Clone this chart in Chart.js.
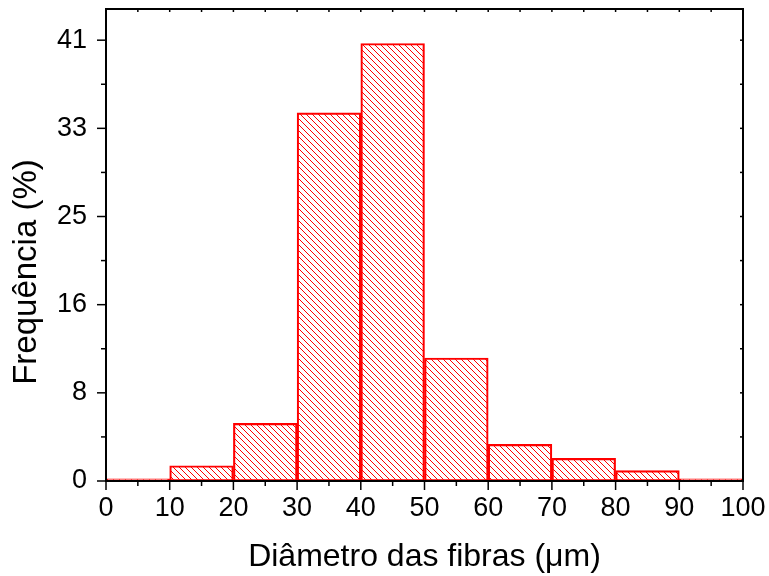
<!DOCTYPE html>
<html>
<head>
<meta charset="utf-8">
<script src="https://cdn.jsdelivr.net/npm/chart.js@4.4.1/dist/chart.umd.min.js"></script>
<style>
  html, body { margin: 0; padding: 0; background: #ffffff; }
  #wrap { width: 769px; height: 576px; }
</style>
</head>
<body>
<div id="wrap"><canvas id="chart" width="769" height="576"></canvas></div>
<script>
// Fibre diameter histogram: 10 µm bins from 0 to 100 µm
const binStarts = [0, 10, 20, 30, 40, 50, 60, 70, 80, 90];
const binWidth = 10;
const frequencies = [0.2, 1.42, 5.36, 34.24, 40.69, 11.44, 3.41, 2.11, 0.96, 0.2];

// Axis ticks
const xTickValues = [0, 10, 20, 30, 40, 50, 60, 70, 80, 90, 100];
const xMinorTicks = [5, 15, 25, 35, 45, 55, 65, 75, 85, 95];
const yTickValues = [0, 8.2, 16.4, 24.6, 32.8, 41];
const yTickLabels = ['0', '8', '16', '25', '33', '41'];
const yMinorTicks = [4.1, 12.3, 20.5, 28.7, 36.9];

const yTitle = 'Frequência (%)';
const xTitle = 'Diâmetro das fibras (μm)';

const FONT = '"Liberation Sans", Arial, Helvetica, sans-serif';
const RED = '#ff0000';

// Diagonal "\" hatch fill for the bars
function makeHatch(step, color) {
  const c = document.createElement('canvas');
  c.width = step; c.height = step;
  const g = c.getContext('2d');
  g.strokeStyle = color;
  g.lineWidth = 1;
  for (let k = -1; k <= 1; k++) {
    g.beginPath();
    g.moveTo(k * step, 0);
    g.lineTo(k * step + step, step);
    g.stroke();
  }
  return g.createPattern(c, 'repeat');
}

// Box frame with outward ticks on left/bottom and short inward ticks on top/right
const framePlugin = {
  id: 'frame',
  afterDraw(chart) {
    const { ctx, chartArea: a, scales } = chart;
    const xs = scales.x, ys = scales.y;
    ctx.save();
    ctx.strokeStyle = '#000000';
    ctx.lineWidth = 2;
    ctx.lineCap = 'butt';
    ctx.strokeRect(a.left, a.top, a.right - a.left, a.bottom - a.top);
    const line = (x1, y1, x2, y2) => {
      ctx.beginPath(); ctx.moveTo(x1, y1); ctx.lineTo(x2, y2); ctx.stroke();
    };
    ctx.lineWidth = 1.5;
    xTickValues.forEach(v => {
      const px = xs.getPixelForValue(v);
      line(px, a.bottom, px, a.bottom + 9);
      line(px, a.top, px, a.top + 3);
    });
    xMinorTicks.forEach(v => {
      const px = xs.getPixelForValue(v);
      line(px, a.bottom, px, a.bottom + 5);
      line(px, a.top, px, a.top + 3);
    });
    yTickValues.forEach(v => {
      const py = ys.getPixelForValue(v);
      line(a.left - 9, py, a.left, py);
      line(a.right - 3, py, a.right, py);
    });
    yMinorTicks.forEach(v => {
      const py = ys.getPixelForValue(v);
      line(a.left - 5, py, a.left, py);
      line(a.right - 3, py, a.right, py);
    });

    // vertical axis title, placed slightly below the plot's middle
    ctx.fillStyle = '#000000';
    ctx.font = '33px ' + FONT;
    ctx.textAlign = 'center';
    ctx.textBaseline = 'middle';
    ctx.translate(27, 272);
    ctx.rotate(-Math.PI / 2);
    ctx.fillText(yTitle, 0, 0);
    ctx.restore();
  }
};

const ctx = document.getElementById('chart').getContext('2d');
const hatch = makeHatch(6, RED);

new Chart(ctx, {
  type: 'bar',
  data: {
    datasets: [{
      data: binStarts.map((s, i) => ({ x: s + binWidth / 2, y: frequencies[i] })),
      backgroundColor: hatch,
      borderColor: RED,
      borderWidth: 1.5,
      borderSkipped: false,
      barPercentage: 1,
      categoryPercentage: 1
    }]
  },
  options: {
    responsive: false,
    devicePixelRatio: 1,
    animation: false,
    layout: { padding: { left: 0, right: 26, top: 9, bottom: 0 } },
    plugins: { legend: { display: false }, tooltip: { enabled: false } },
    scales: {
      x: {
        type: 'linear',
        min: 0,
        max: 100,
        offset: false,
        afterBuildTicks: s => { s.ticks = xTickValues.map(v => ({ value: v })); },
        afterFit: s => { s.height = 95; s.paddingLeft = 0; s.paddingRight = 0; },
        grid: { display: false, drawTicks: false },
        border: { display: false },
        ticks: {
          color: '#000000',
          font: { family: FONT, size: 27 },
          padding: 11,
          maxRotation: 0,
          autoSkip: false
        },
        title: {
          display: true,
          text: xTitle,
          color: '#000000',
          font: { family: FONT, size: 32 },
          padding: { top: 1, bottom: 0 }
        }
      },
      y: {
        min: 0,
        max: 43.9,
        afterBuildTicks: s => { s.ticks = yTickValues.map(v => ({ value: v })); },
        afterFit: s => { s.width = 106; s.paddingTop = 0; s.paddingBottom = 0; },
        grid: { display: false, drawTicks: false },
        border: { display: false },
        ticks: {
          color: '#000000',
          font: { family: FONT, size: 27 },
          padding: 19,
          callback: (v, i) => yTickLabels[i]
        },
        title: { display: false }
      }
    }
  },
  plugins: [framePlugin]
});
</script>
</body>
</html>
